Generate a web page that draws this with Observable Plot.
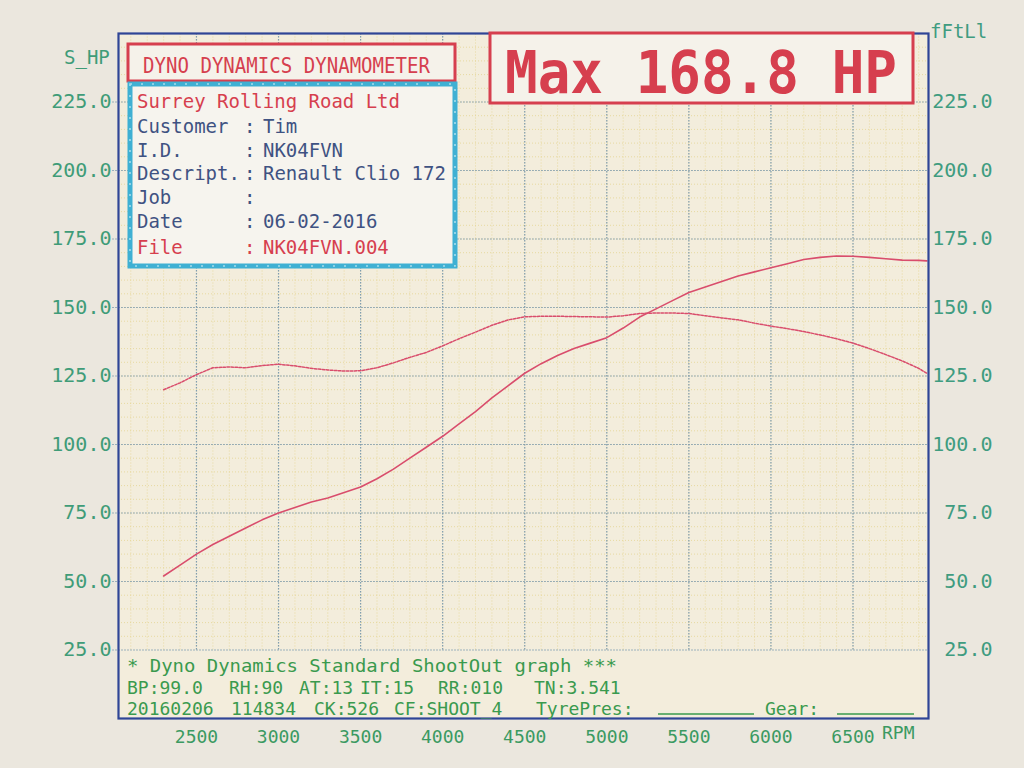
<!DOCTYPE html>
<html><head><meta charset="utf-8">
<script src="https://cdn.jsdelivr.net/npm/d3@7"></script>
<script src="https://cdn.jsdelivr.net/npm/@observablehq/plot@0.6"></script>
<style>
html,body{margin:0;padding:0;background:#ebe7de;}
#chart{width:1024px;height:768px;}
</style></head><body><div id="chart"></div>
<script>
// ---- data read from the dyno sheet ----
const rpm = [2300,2400,2500,2600,2700,2800,2900,3000,3100,3200,3300,3400,3500,3600,3700,3800,3900,4000,4100,4200,4300,4400,4500,4600,4700,4800,4900,5000,5100,5200,5300,5400,5500,5600,5700,5800,5900,6000,6100,6200,6300,6400,6500,6600,6700,6800,6900,6950];
const powerHp = [52,56,60,63.5,66.5,69.5,72.5,75,77,79,80.5,82.5,84.5,87.5,91,95,99,103,107.5,112,117,121.5,126,129.5,132.5,135,137,139,142.5,146.5,149.5,152.5,155.5,157.5,159.5,161.5,163,164.5,166,167.5,168.3,168.8,168.7,168.3,167.8,167.3,167.2,167.0];
const torqueFtLb = [120,122.5,125.5,128,128.3,128,128.8,129.3,128.7,127.8,127.2,126.8,126.9,128,129.8,131.8,133.6,136,138.6,141,143.5,145.5,146.6,146.8,146.8,146.7,146.6,146.5,147,147.8,148,148,147.8,147,146.2,145.5,144.3,143.2,142.3,141.2,140,138.6,137,135,132.8,130.5,127.8,126];
const rpmTicks = [2500,3000,3500,4000,4500,5000,5500,6000,6500];
const scaleTicks = [25,50,75,100,125,150,175,200,225];
const rpmMinor = d3.range(2100, 6960, 100);
const scaleMinor = d3.range(30, 250, 5);

const power = rpm.map((r, i) => ({rpm: r, value: powerHp[i]}));
const torque = rpm.map((r, i) => ({rpm: r, value: torqueFtLb[i]}));

const FONT = "DejaVu Sans Mono, monospace";
const curveColor = "#d94d6c";

const chart = Plot.plot({
  width: 1024, height: 768,
  marginLeft: 118, marginRight: 96, marginTop: 33, marginBottom: 50,
  x: {domain: [2025, 6960], label: null},
  y: {domain: [0, 250], label: null},
  style: {background: "transparent", fontFamily: FONT, fontSize: "19px", color: "#3f9c78", overflow: "visible"},
  marks: [
    Plot.frame({fill: "#f3eddc", stroke: null}),
    Plot.ruleX(rpmMinor, {y1: 25, y2: 250, stroke: "#e4d38e", strokeOpacity: 0.75, strokeDasharray: "1,2", strokeWidth: 1}),
    Plot.ruleY(scaleMinor, {stroke: "#e4d38e", strokeOpacity: 0.75, strokeDasharray: "1,2", strokeWidth: 1}),
    Plot.ruleX(rpmTicks, {y1: 25, y2: 250, stroke: "#7f9db2", strokeDasharray: "1.5,1.5", strokeWidth: 1.2}),
    Plot.ruleY(scaleTicks, {x1: 1990, x2: 6960, clip: false, stroke: "#7f9db2", strokeDasharray: "1.5,1.5", strokeWidth: 1.2}),
    Plot.line(torque, {x: "rpm", y: "value", stroke: curveColor, strokeWidth: 1.5, strokeDasharray: "2.5,1.5"}),
    Plot.line(power, {x: "rpm", y: "value", stroke: curveColor, strokeWidth: 1.6}),
    Plot.axisY(scaleTicks, {anchor: "left", tickSize: 0, tickPadding: 7, tickFormat: d => d.toFixed(1), fontSize: 20, fill: "#3f9c78"}),
    Plot.axisY(scaleTicks, {anchor: "right", tickSize: 0, tickPadding: 6, textAnchor: "end", dx: 58, tickFormat: d => d.toFixed(1), fontSize: 20, fill: "#3f9c80"}),
    Plot.axisX(rpmTicks, {anchor: "bottom", tickSize: 0, tickPadding: 12, tickFormat: d => String(d), fontSize: 18, fill: "#3b9a62"}),
    Plot.frame({stroke: "#2f4596", strokeWidth: 2.2})
  ]
});
document.getElementById("chart").appendChild(chart);

// ---- printed annotations of the dyno sheet ----
const svg = d3.select(chart);
const g = svg.append("g").attr("font-family", FONT);
function txt(x, y, s, size, color, opts = {}) {
  const t = g.append("text")
    .attr("transform", `translate(${x},${y}) scale(1,${opts.sy || 1})`)
    .attr("font-size", size).attr("fill", color)
    .attr("font-weight", opts.weight || "normal")
    .attr("text-anchor", opts.anchor || "start")
    .style("white-space", "pre")
    .text(s);
  if (opts.len) t.attr("textLength", opts.len).attr("lengthAdjust", "spacingAndGlyphs");
  return t;
}
const red = "#d63f4e", navy = "#3f5282", green = "#3a9a4e";

// axis titles
txt(64, 64, "S_HP", 19, "#3f9c78");
txt(930, 38, "fFtLl", 19, "#3f9c80");
txt(882, 739, "RPM", 18, "#3b9a62");

// DYNO DYNAMICS header box
g.append("rect").attr("x", 128).attr("y", 44).attr("width", 327).attr("height", 37)
  .attr("fill", "#f5f2ea").attr("stroke", red).attr("stroke-width", 3);
txt(143, 73, "DYNO DYNAMICS DYNAMOMETER", 19, red, {len: 287, sy: 1.1});

// info box
g.append("rect").attr("x", 130).attr("y", 84).attr("width", 325).attr("height", 182)
  .attr("fill", "#f6f4ee").attr("stroke", "#3fb0d3").attr("stroke-width", 5);
g.append("rect").attr("x", 130).attr("y", 84).attr("width", 325).attr("height", 182)
  .attr("fill", "none").attr("stroke", "#a6dcec").attr("stroke-width", 1.6).attr("stroke-dasharray", "2,9");
txt(137, 108, "Surrey Rolling Road Ltd", 19, red, {len: 263, sy: 1.05});
const rows = [
  ["Customer", "Tim", navy, 133],
  ["I.D.", "NK04FVN", navy, 157],
  ["Descript.", "Renault Clio 172", navy, 180],
  ["Job", "", navy, 204],
  ["Date", "06-02-2016", navy, 228],
  ["File", "NK04FVN.004", red, 254]
];
for (const [k, v, c, y] of rows) {
  txt(137, y, k, 19, c, {sy: 1.05});
  txt(244, y, ":", 19, c, {sy: 1.05});
  if (v) txt(263, y, v, 19, c, {sy: 1.05});
}

// Max HP box
g.append("rect").attr("x", 490).attr("y", 33).attr("width", 423).attr("height", 70)
  .attr("fill", "#f5f2ea").attr("stroke", red).attr("stroke-width", 3);
txt(505, 93, "Max 168.8 HP", 54, red, {weight: "bold", sy: 1.1, len: 392});

// bottom printed legend (inside plot frame)
txt(127, 672, "* Dyno Dynamics Standard ShootOut graph ***", 18, green, {len: 490});
const row2 = [["BP:99.0", 127], ["RH:90", 229], ["AT:13", 299], ["IT:15", 360], ["RR:010", 438], ["TN:3.541", 534]];
for (const [s, x] of row2) txt(x, 694, s, 18, green);
const row3 = [["20160206", 127], ["114834", 231], ["CK:526", 314], ["CF:SHOOT_4", 394], ["TyrePres:", 536], ["Gear:", 765]];
for (const [s, x] of row3) txt(x, 715, s, 18, green);
g.append("line").attr("x1", 658).attr("x2", 754).attr("y1", 714).attr("y2", 714).attr("stroke", green).attr("stroke-width", 1.5);
g.append("line").attr("x1", 837).attr("x2", 914).attr("y1", 714).attr("y2", 714).attr("stroke", green).attr("stroke-width", 1.5);
</script>
</body></html>
